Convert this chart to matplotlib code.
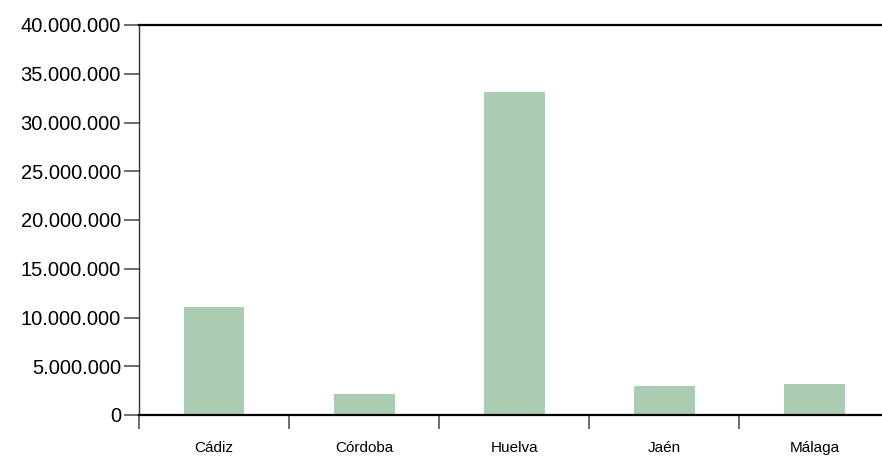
import numpy as np
import matplotlib.pyplot as plt
from matplotlib.ticker import FuncFormatter

# provincias y valores
provincias = ["Cádiz", "Córdoba", "Huelva", "Jaén", "Málaga"]
valores = [11100000, 2150000, 33100000, 2950000, 3200000]
yticks = [0, 5000000, 10000000, 15000000, 20000000, 25000000, 30000000, 35000000, 40000000]

plt.rcParams['font.family'] = ['Liberation Sans', 'DejaVu Sans']

fig = plt.figure(figsize=(8.82, 4.58), dpi=100)
ax = fig.add_axes([139 / 882, 1 - 415 / 458, 1 - 139 / 882, 390 / 458])

x = np.arange(len(provincias))
ax.bar(x, valores, width=0.405, color='#abcbb3', zorder=2)

ax.set_ylim(0, 40000000)
ax.set_xlim(-0.5, 4.45)
ax.set_yticks(yticks)
ax.yaxis.set_major_formatter(FuncFormatter(lambda v, p: f"{int(v):,}".replace(",", ".")))
ax.tick_params(axis='y', direction='out', length=11, width=1.2, color='#555555',
               labelsize=14.5, pad=2)

# marcas entre categorias, etiquetas en el centro
ax.set_xticks(np.arange(-0.5, 4.0, 1.0))
ax.set_xticklabels([])
ax.tick_params(axis='x', which='major', direction='out', length=10, width=1.2, color='#555555')
ax.set_xticks(x, minor=True)
ax.set_xticklabels(provincias, minor=True)
ax.tick_params(axis='x', which='minor', length=0, labelsize=11, pad=19)

ax.spines['right'].set_visible(False)
for s in ['top', 'bottom']:
    ax.spines[s].set_linewidth(1.6)
ax.spines['left'].set_linewidth(1.0)
ax.spines['left'].set_color('#333333')

fig.savefig('out.png', dpi=100)
